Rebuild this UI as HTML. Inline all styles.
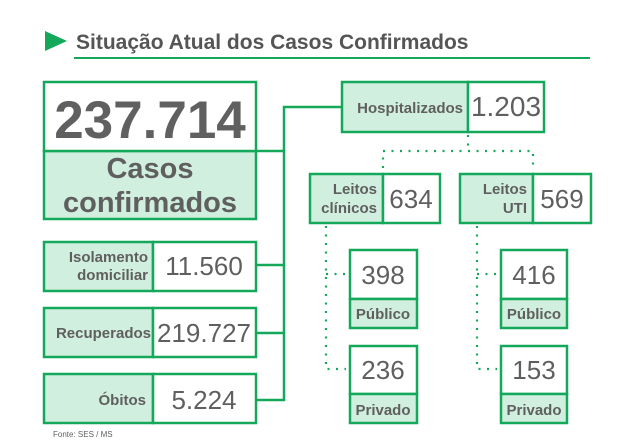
<!DOCTYPE html>
<html><head><meta charset="utf-8"><style>
html,body{margin:0;padding:0;background:#fff;width:630px;height:440px;overflow:hidden}
svg{display:block}
text{font-family:"Liberation Sans",Arial,sans-serif;fill:#5f5f5f}
.b{font-weight:bold}
</style></head><body>
<svg width="630" height="440" viewBox="0 0 630 440" xmlns="http://www.w3.org/2000/svg">
<g stroke="#14a85a" stroke-width="2.5" fill="none">
<polygon points="45,31 67,41 45,51" fill="#14a85a" stroke="none"/>
<line x1="74" y1="58" x2="590" y2="58" stroke-width="2"/>
<polyline points="256,151 284,151"/>
<polyline points="342,107 284,107 284,400 256,400"/>
<line x1="256" y1="265" x2="284" y2="265"/>
<line x1="256" y1="333" x2="284" y2="333"/>
</g>
<g fill="#d1efdf" stroke="#14a85a" stroke-width="2.5">
<rect x="44" y="151" width="212" height="68"/>
<rect x="44" y="82" width="212" height="69" fill="#fff"/>
<rect x="44" y="242" width="109" height="49"/><rect x="153" y="242" width="103" height="49" fill="#fff"/>
<rect x="44" y="308" width="109" height="49"/><rect x="153" y="308" width="103" height="49" fill="#fff"/>
<rect x="44" y="374" width="109" height="49"/><rect x="153" y="374" width="103" height="49" fill="#fff"/>
<rect x="342" y="82" width="126" height="50"/><rect x="468" y="82" width="76" height="50" fill="#fff"/>
<rect x="310" y="174" width="73" height="49"/><rect x="383" y="174" width="57" height="49" fill="#fff"/>
<rect x="460" y="174" width="73" height="49"/><rect x="533" y="174" width="58" height="49" fill="#fff"/>
<rect x="350" y="250" width="67" height="49" fill="#fff"/><rect x="350" y="299" width="67" height="29"/>
<rect x="350" y="346" width="67" height="48" fill="#fff"/><rect x="350" y="394" width="67" height="29"/>
<rect x="501" y="250" width="66" height="49" fill="#fff"/><rect x="501" y="299" width="66" height="29"/>
<rect x="501" y="346" width="66" height="48" fill="#fff"/><rect x="501" y="394" width="66" height="29"/>
</g>
<g stroke="#14a85a" stroke-width="2.2" fill="none" stroke-dasharray="2,6.5">
<polyline points="468,135 468,151"/>
<polyline points="383,168 383,151 533,151 533,168"/>
<polyline points="326,226 326,369 346,369"/>
<line x1="326" y1="274" x2="346" y2="274"/>
<polyline points="477,226 477,369 497,369"/>
<line x1="477" y1="274" x2="497" y2="274"/>
</g>
<text x="76" y="49" class="b" font-size="21" style="fill:#555">Situação Atual dos Casos Confirmados</text>
<text x="150" y="138" class="b" font-size="53" text-anchor="middle" style="fill:#606060">237.714</text>
<text x="150" y="178" class="b" font-size="29" text-anchor="middle">Casos</text>
<text x="150" y="212" class="b" font-size="29" text-anchor="middle">confirmados</text>
<g class="b" font-size="15" text-anchor="end">
<text x="148" y="262" class="b">Isolamento</text>
<text x="148" y="280" class="b">domiciliar</text>
<text x="151" y="338" class="b">Recuperados</text>
<text x="146" y="405" class="b">Óbitos</text>
<text x="463" y="113" class="b">Hospitalizados</text>
<text x="377" y="194" class="b">Leitos</text>
<text x="377" y="213" class="b">clínicos</text>
<text x="527" y="194" class="b">Leitos</text>
<text x="527" y="213" class="b">UTI</text>
</g>
<g font-size="15" text-anchor="middle">
<text x="383" y="319" class="b">Público</text>
<text x="383" y="415" class="b">Privado</text>
<text x="534" y="319" class="b">Público</text>
<text x="534" y="415" class="b">Privado</text>
</g>
<g font-size="26" text-anchor="middle">
<text x="204" y="275">11.560</text>
<text x="204" y="342">219.727</text>
<text x="204" y="409">5.224</text>
<text x="506" y="116" font-size="28">1.203</text>
<text x="411" y="208">634</text>
<text x="562" y="208">569</text>
<text x="383" y="284">398</text>
<text x="383" y="379">236</text>
<text x="534" y="284">416</text>
<text x="534" y="379">153</text>
</g>
<text x="53" y="437" font-size="8">Fonte: SES / MS</text>
</svg>
</body></html>
